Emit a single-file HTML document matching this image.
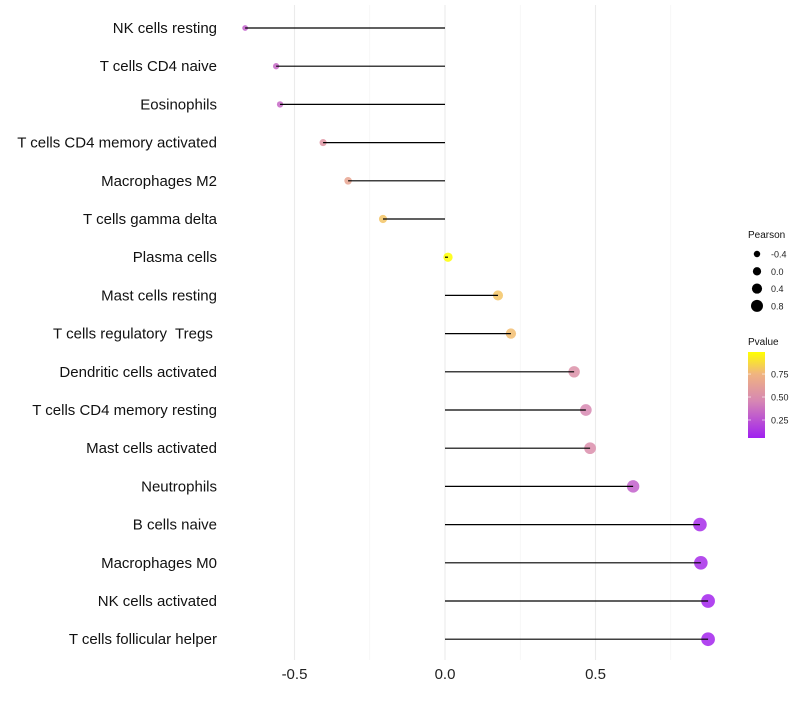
<!DOCTYPE html>
<html><head><meta charset="utf-8"><style>
body{margin:0;background:#fff;font-family:"Liberation Sans",sans-serif}
text{white-space:pre}
</style></head><body>
<svg id="c" width="800" height="700" style="font-family:'Liberation Sans',sans-serif"></svg>
<script>
const categories=["NK cells resting","T cells CD4 naive","Eosinophils","T cells CD4 memory activated","Macrophages M2","T cells gamma delta","Plasma cells","Mast cells resting","T cells regulatory  Tregs ","Dendritic cells activated","T cells CD4 memory resting","Mast cells activated","Neutrophils","B cells naive","Macrophages M0","NK cells activated","T cells follicular helper"];
const pearson=[-0.664,-0.561,-0.548,-0.405,-0.322,-0.206,0.01,0.176,0.219,0.429,0.468,0.482,0.625,0.847,0.85,0.874,0.874];
const pvalue=[0.3,0.33,0.33,0.55,0.65,0.8,0.99,0.8,0.78,0.52,0.46,0.5,0.3,0.1,0.1,0.07,0.07];
const xTicks=[-0.5,0,0.5];
const xTickLabels=["-0.5","0.0","0.5"];
const xMinor=[-0.25,0.25,0.75];
const sizeLegend=[-0.4,0,0.4,0.8];
const colorTicks=[0.25,0.5,0.75];
const colorTickLabels=["0.25","0.50","0.75"];

const NS="http://www.w3.org/2000/svg",svg=document.getElementById('c');
function mk(t,a,p){const e=document.createElementNS(NS,t);for(const k in a)e.setAttribute(k,a[k]);(p||svg).appendChild(e);return e;}
const x=v=>445+v*301;
const y=i=>28+i*38.2;
const r=v=>Math.max(1.6,4.6+2.6*v);
const stops=[[0.05,[160,32,240]],[0.45,[214,134,180]],[0.75,[240,180,128]],[0.99,[255,255,0]]];
function col(p){p=Math.max(0.05,Math.min(0.99,p));for(let i=0;i<stops.length-1;i++){const[a,ca]=stops[i],[b,cb]=stops[i+1];if(p<=b){const t=(p-a)/(b-a);return 'rgb('+ca.map((c,j)=>Math.round(c+(cb[j]-c)*t)).join(',')+')';}}return 'rgb(255,255,0)';}
xMinor.forEach(v=>{const l=mk('line',{x1:x(v),x2:x(v),y1:5,y2:660,stroke:'#f2f2f2','stroke-width':0.6});

});
xTicks.forEach((v,i)=>{const l=mk('line',{x1:x(v),x2:x(v),y1:5,y2:660,stroke:'#ebebeb','stroke-width':1.1});


const t=mk('text',{x:x(v),y:679,'text-anchor':'middle','font-size':15,fill:'#222'});t.textContent=xTickLabels[i];

});
categories.forEach((c,i)=>{
const t=mk('text',{x:217,y:y(i)+5,'text-anchor':'end','font-size':15,fill:'#111'});t.textContent=c;


const ci=mk('circle',{cx:x(pearson[i]),cy:y(i),r:r(pearson[i]),fill:col(pvalue[i]),'fill-opacity':0.85});


const l=mk('line',{x1:x(0),x2:x(pearson[i]),y1:y(i),y2:y(i),stroke:'#000','stroke-width':1.2});


});
let t=mk('text',{x:748,y:238,'font-size':10,fill:'#111'});t.textContent='Pearson';


sizeLegend.forEach((v,i)=>{const cy=254+i*17.3;
const c=mk('circle',{cx:757,cy:cy,r:r(v)*0.9,fill:'#000'});


const tt=mk('text',{x:771,y:cy+3.5,'font-size':9,fill:'#222'});tt.textContent=(v<0?'-':'')+Math.abs(v).toFixed(1);

});
t=mk('text',{x:748,y:345,'font-size':10,fill:'#111'});t.textContent='Pvalue';


const defs=mk('defs',{});const g=mk('linearGradient',{id:'gr',x1:0,y1:1,x2:0,y2:0},defs);
const cb=v=>438-(v-0.054)/(0.99-0.054)*86;
[0.05,0.25,0.45,0.6,0.75,0.9,0.99].forEach(p=>mk('stop',{offset:(p-0.05)/0.94,'stop-color':col(p)},g));
const rect=mk('rect',{x:748,y:352,width:17,height:86,fill:'url(#gr)'});


colorTicks.forEach((v,i)=>{const yy=cb(v);
mk('line',{x1:748,x2:751,y1:yy,y2:yy,stroke:'#fff','stroke-opacity':0.6});mk('line',{x1:762,x2:765,y1:yy,y2:yy,stroke:'#fff','stroke-opacity':0.6});
const tt=mk('text',{x:771,y:yy+3.5,'font-size':9,fill:'#222'});tt.textContent=colorTickLabels[i];

});
</script>
</body></html>
